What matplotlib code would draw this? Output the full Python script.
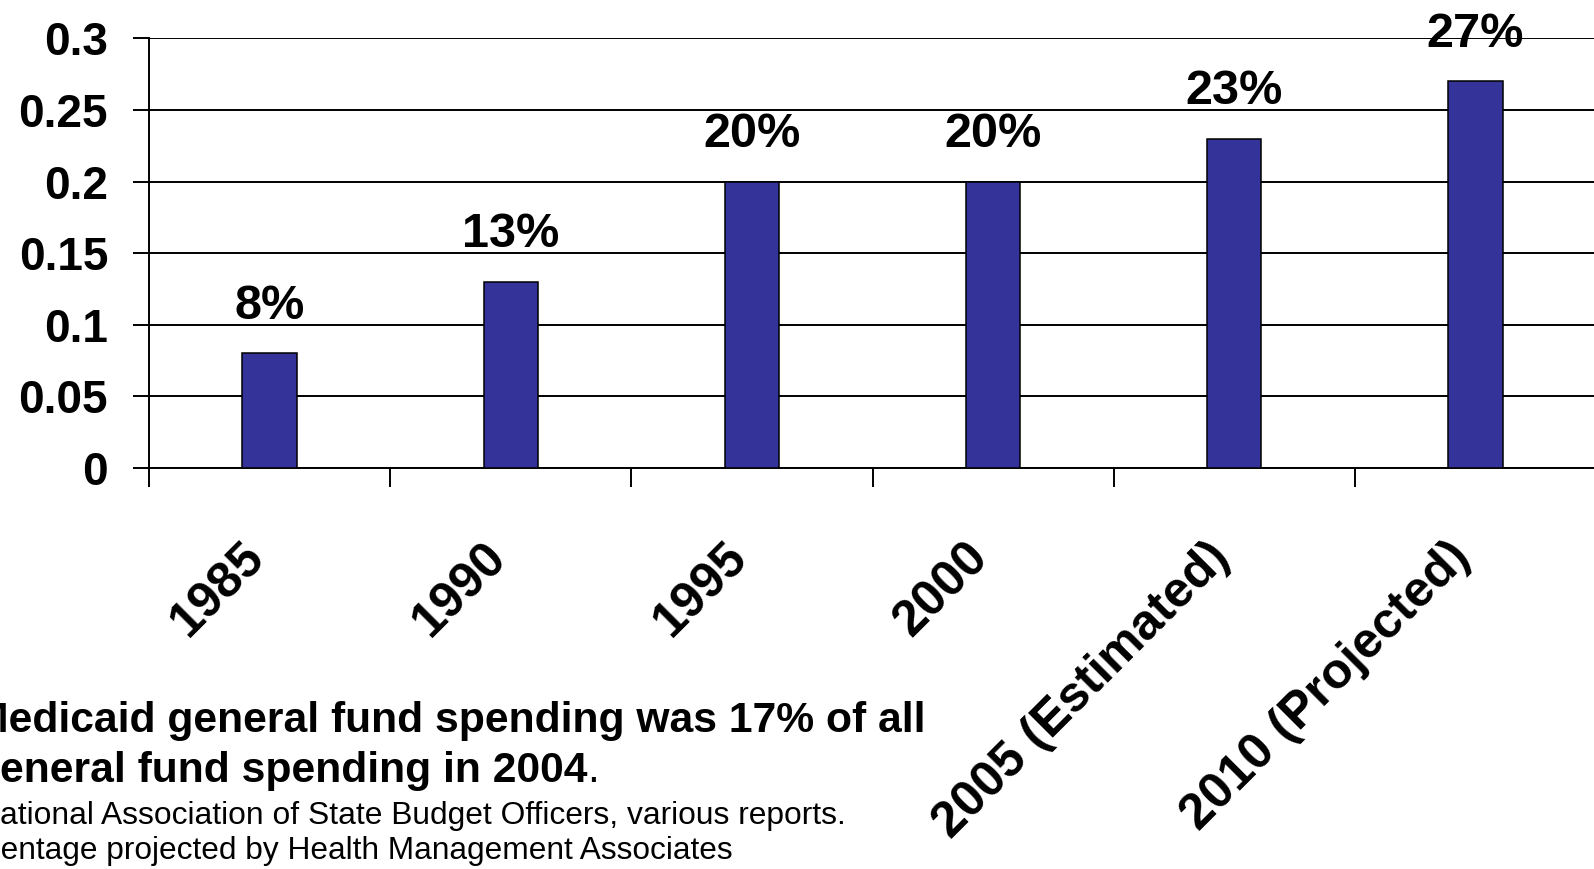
import matplotlib
matplotlib.use("Agg")
import matplotlib.pyplot as plt
from matplotlib.transforms import ScaledTranslation

plt.rcParams["font.family"] = ["Liberation Sans", "DejaVu Sans"]

# Medicaid share of state general fund spending
categories = ["1985", "1990", "1995", "2000", "2005 (Estimated)", "2010 (Projected)"]
shares = [0.08, 0.13, 0.20, 0.20, 0.23, 0.27]
y_ticks = [0.0, 0.05, 0.10, 0.15, 0.20, 0.25, 0.30]
y_tick_labels = ["0", "0.05", "0.1", "0.15", "0.2", "0.25", "0.3"]

note_lines = [
    "Medicaid general fund spending was 17% of all",
    "general fund spending in 2004",
]
source_lines = [
    "National Association of State Budget Officers, various reports.",
    "percentage projected by Health Management Associates",
]

W, H = 1594, 869
fig = plt.figure(figsize=(W / 100, H / 100), dpi=100)
ax = fig.add_axes([149 / W, 1 - 468 / H, (1596 - 149) / W, (468 - 38.3) / H])

bar_color = "#333399"
centers = [i + 0.5 for i in range(len(categories))]
ax.bar(centers, shares, width=0.225, color=bar_color, edgecolor="black",
       linewidth=1.1, zorder=3)

for x, v in zip(centers, shares):
    ax.annotate(f"{round(v * 100)}%", xy=(x, v), xytext=(0, 25), textcoords="offset points",
                ha="center", va="baseline", fontsize=35, fontweight="bold", zorder=4)

ax.set_xlim(0, len(categories))
ax.set_ylim(0, 0.3)

ax.set_yticks(y_ticks)
ax.set_yticklabels(y_tick_labels, fontsize=33, fontweight="bold")
ax.yaxis.grid(True, color="black", linewidth=1.4, zorder=0)
ax.set_axisbelow(True)

ax.set_xticks(centers)
ax.set_xticklabels(categories, fontsize=36, fontweight="bold")
ax.set_xticks(range(len(categories) + 1), minor=True)
ax.tick_params(axis="x", which="major", length=0, pad=59)
ax.tick_params(axis="x", which="minor", length=13.7, width=1.4, direction="out")
ax.tick_params(axis="y", which="major", length=11.5, width=1.4, direction="out", pad=18)
shift = ScaledTranslation(-12 / 100, 0, fig.dpi_scale_trans)
for lbl in ax.get_xticklabels():
    lbl.set_rotation(45)
    lbl.set_ha("right")
    lbl.set_va("center")
    lbl.set_rotation_mode("anchor")
    lbl.set_transform(lbl.get_transform() + shift)

for side in ("top", "right"):
    ax.spines[side].set_visible(False)
for side in ("left", "bottom"):
    ax.spines[side].set_linewidth(1.4)

# Footnote block beneath the chart
t1 = fig.text(-27 / W, 1 - 732 / H, note_lines[0], fontsize=30.7, fontweight="bold",
              ha="left", va="baseline")
t2 = fig.text(-26 / W, 1 - 782 / H, note_lines[1], fontsize=30.7, fontweight="bold",
              ha="left", va="baseline")
fig.text(-23 / W, 1 - 824 / H, source_lines[0], fontsize=22.9, ha="left", va="baseline")
fig.text(-61 / W, 1 - 859 / H, source_lines[1], fontsize=22.8, ha="left", va="baseline")

fig.canvas.draw()
bb = t2.get_window_extent(fig.canvas.get_renderer())
fig.text(bb.x1 / W, 1 - 782 / H, ".", fontsize=30.7, ha="left", va="baseline")

fig.savefig("out.png", dpi=100)
